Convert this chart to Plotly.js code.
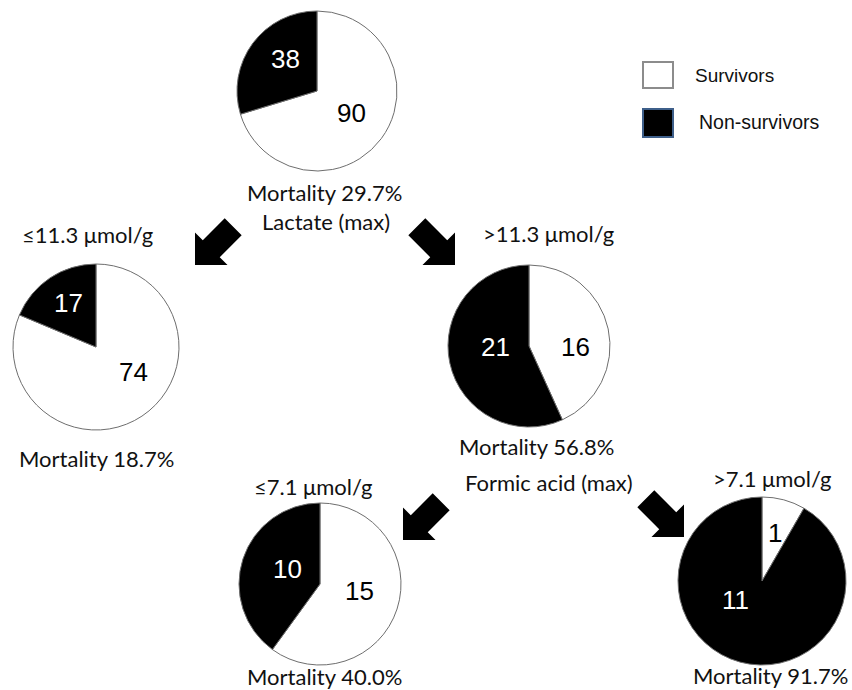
<!DOCTYPE html>
<html>
<head>
<meta charset="utf-8">
<script src="https://cdn.plot.ly/plotly-3.0.1.min.js"></script>
<style>html,body{margin:0;padding:0;background:#fff;}#chart{width:852px;height:690px;}</style>
</head>
<body>
<div id="chart"></div>
<script>
// ---- data ----
var categories = ["Survivors", "Non-survivors"];
var nodeNames = ["All", "Lactate ≤11.3", "Lactate >11.3", "Formic ≤7.1", "Formic >7.1"];
var survivors = [90, 74, 16, 15, 1];
var nonSurvivors = [38, 17, 21, 10, 11];
var mortalityLabels = ["Mortality 29.7%", "Mortality 18.7%", "Mortality 56.8%", "Mortality 40.0%", "Mortality 91.7%"];
var splitLabels = ["Lactate (max)", "Formic acid (max)"];
var thresholdLabels = ["≤11.3 μmol/g", ">11.3 μmol/g", "≤7.1 μmol/g", ">7.1 μmol/g"];

// ---- layout helpers (pixel -> paper) ----
var W = 852, H = 690;
function px(x){ return x / W; }
function py(y){ return 1 - y / H; }

// pie placement: [cx, cy, r] in pixels
var pieGeom = [[317, 91, 80], [96, 347, 83], [529, 346, 81], [320, 584, 81], [762, 581, 84]];
var colors = ["#ffffff", "#000000"];

var traces = [];
for (var i = 0; i < survivors.length; i++) {
  var g = pieGeom[i];
  traces.push({
    type: "pie",
    name: nodeNames[i],
    labels: categories,
    values: [survivors[i], nonSurvivors[i]],
    sort: false,
    direction: "clockwise",
    rotation: 0,
    textinfo: "none",
    hoverinfo: "label+value",
    showlegend: false,
    marker: { colors: colors, line: { color: "#6e6e6e", width: 1 } },
    domain: { x: [px(g[0] - g[2]), px(g[0] + g[2])], y: [py(g[1] + g[2]), py(g[1] - g[2])] }
  });
}

var annotations = [];
function addText(t, x, y, size, color, family, anchor) {
  annotations.push({
    text: t, x: px(x), y: py(y), xref: "paper", yref: "paper",
    xanchor: anchor || "center", yanchor: "middle", showarrow: false,
    font: { size: size, color: color, family: family }
  });
}
var sansC = "Lato, 'Open Sans', sans-serif";
var arial = "'Liberation Sans', Arial, sans-serif";

// slice value labels: [survivorPos, nonSurvivorPos]
var numPos = [
  [[351, 113], [285, 59]],
  [[133, 372], [68, 303]],
  [[575, 347], [495, 347]],
  [[359, 591], [287, 569]],
  [[775, 533], [735, 600]]
];
for (var i = 0; i < survivors.length; i++) {
  addText(String(survivors[i]), numPos[i][0][0], numPos[i][0][1], 26, "#000", arial);
  addText(String(nonSurvivors[i]), numPos[i][1][0], numPos[i][1][1], 26, "#fff", arial);
}

// mortality labels
var mortPos = [[324, 193], [96, 458], [536, 446], [324, 676], [770, 675]];
for (var i = 0; i < mortalityLabels.length; i++) addText(mortalityLabels[i], mortPos[i][0], mortPos[i][1], 22, "#111", sansC);

// split variable labels
addText(splitLabels[0], 326, 222, 22, "#111", sansC);
addText(splitLabels[1], 549, 483, 22, "#111", sansC);

// thresholds
var thrPos = [[87, 235], [548, 233], [313, 486], [772, 479]];
for (var i = 0; i < thresholdLabels.length; i++) addText(thresholdLabels[i], thrPos[i][0], thrPos[i][1], 22, "#111", sansC);

// legend
addText(categories[0], 693, 76, 19, "#111", arial, "left");
addText(categories[1], 697, 122, 19.5, "#111", arial, "left");

var shapes = [];
shapes.push({ type: "rect", xref: "paper", yref: "paper", x0: px(643), x1: px(673), y0: py(88), y1: py(62),
  fillcolor: "#ffffff", line: { color: "#8c8c8c", width: 2 } });
shapes.push({ type: "rect", xref: "paper", yref: "paper", x0: px(643), x1: px(673), y0: py(137), y1: py(109),
  fillcolor: "#000000", line: { color: "#3e5f8a", width: 2 } });

// block arrows: tip (x,y), direction (dx,dy)
function arrow(tx, ty, dx, dy) {
  var L = 54, h = 23, hw = 23, sw = 12;
  var n = Math.sqrt(dx*dx + dy*dy); dx /= n; dy /= n;
  var nx = -dy, ny = dx;
  var neckX = tx - h*dx, neckY = ty - h*dy;
  var tailX = tx - L*dx, tailY = ty - L*dy;
  var pts = [
    [tailX + sw*nx, tailY + sw*ny],
    [neckX + sw*nx, neckY + sw*ny],
    [neckX + hw*nx, neckY + hw*ny],
    [tx, ty],
    [neckX - hw*nx, neckY - hw*ny],
    [neckX - sw*nx, neckY - sw*ny],
    [tailX - sw*nx, tailY - sw*ny]
  ];
  var p = "M " + pts.map(function(q){ return px(q[0]).toFixed(5) + "," + py(q[1]).toFixed(5); }).join(" L ") + " Z";
  shapes.push({ type: "path", xref: "paper", yref: "paper", path: p, fillcolor: "#000", line: { color: "#000", width: 0 } });
}
arrow(195, 265, -1, 1);
arrow(455, 265, 1, 1);
arrow(403, 540, -1, 1);
arrow(684, 537, 1, 1);

var layout = {
  width: W, height: H,
  margin: { l: 0, r: 0, t: 0, b: 0 },
  paper_bgcolor: "#ffffff", plot_bgcolor: "#ffffff",
  showlegend: false,
  annotations: annotations,
  shapes: shapes
};
Plotly.newPlot("chart", traces, layout, { displayModeBar: false, staticPlot: true });
</script>
</body>
</html>
